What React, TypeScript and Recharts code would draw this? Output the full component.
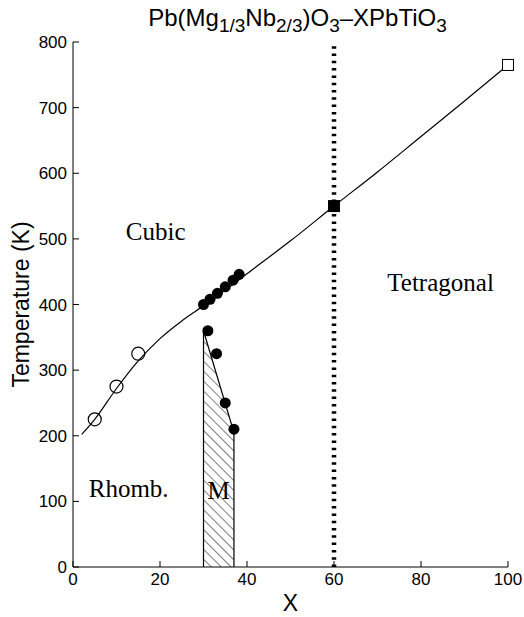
import React from 'react';
import { ComposedChart, XAxis, YAxis, Line, Area, Scatter, ReferenceLine, ReferenceDot } from 'recharts';

const xTicks = [0, 20, 40, 60, 80, 100];
const yTicks = [0, 100, 200, 300, 400, 500, 600, 700, 800];

// phase boundary cubic -> ferroelectric
const boundaryCurve = [
  { x: 2, y: 202 },
  { x: 5, y: 225 },
  { x: 10, y: 272 },
  { x: 15, y: 314 },
  { x: 20, y: 348 },
  { x: 25, y: 375 },
  { x: 30, y: 398 },
  { x: 35, y: 422 },
  { x: 40, y: 447 },
  { x: 50, y: 497 },
  { x: 60, y: 550 },
  { x: 70, y: 602 },
  { x: 80, y: 656 },
  { x: 90, y: 710 },
  { x: 100, y: 765 },
];

const openCircles = [
  { x: 5, y: 225 },
  { x: 10, y: 275 },
  { x: 15, y: 325 },
];

const upperDots = [
  { x: 30, y: 400 },
  { x: 31.5, y: 408 },
  { x: 33.2, y: 417 },
  { x: 35, y: 427 },
  { x: 36.8, y: 437 },
  { x: 38.2, y: 446 },
];

const lowerDots = [
  { x: 31, y: 360 },
  { x: 33, y: 325 },
  { x: 35, y: 250 },
  { x: 37, y: 210 },
];

const mTop = [
  { x: 30, y: 360 },
  { x: 37, y: 205 },
];

const mOutline = [
  { x: 30, y: 0 },
  { x: 30, y: 360 },
  { x: 37, y: 205 },
  { x: 37, y: 0 },
];

const filledSquare = [{ x: 60, y: 550 }];
const openSquare = [{ x: 100, y: 765 }];

const phaseLabels = [
  { name: 'Cubic', x: 19, y: 512 },
  { name: 'Tetragonal', x: 84.5, y: 434 },
  { name: 'Rhomb.', x: 12.8, y: 120 },
  { name: 'M', x: 33.5, y: 117 },
];

const tetraBoundary = 60;

const sans = 'Liberation Sans, Arial, Helvetica, sans-serif';
const serif = 'Liberation Serif, Times New Roman, serif';
const tickStyle = { fontFamily: sans, fontSize: 17, fill: '#000' };
const subStyle = { fontSize: 19 };

export default function App() {
  return (
    <div style={{ position: 'absolute', left: 0, top: 0, width: 524, height: 617, background: '#fff' }}>
      <div
        style={{
          position: 'absolute',
          left: 80,
          width: 435,
          top: 4,
          textAlign: 'center',
          fontFamily: sans,
          fontSize: 24,
          color: '#000',
          lineHeight: '28px',
          whiteSpace: 'nowrap',
        }}
      >
        Pb(Mg<sub style={subStyle}>1/3</sub>Nb<sub style={subStyle}>2/3</sub>)O<sub style={subStyle}>3</sub>–XPbTiO
        <sub style={subStyle}>3</sub>
      </div>
      <ComposedChart width={524} height={617} margin={{ top: 42, right: 16, bottom: 0, left: 10 }}>
        <defs>
          <pattern id="hatch" width="7" height="7" patternUnits="userSpaceOnUse" patternTransform="rotate(-45)">
            <line x1="0" y1="0" x2="0" y2="7" stroke="#000" strokeWidth={1} />
          </pattern>
        </defs>
        <XAxis
          xAxisId="b"
          type="number"
          dataKey="x"
          domain={[0, 100]}
          ticks={xTicks}
          height={50}
          tickSize={-6}
          tickMargin={12}
          stroke="#000"
          tick={tickStyle}
          label={{ value: 'X', position: 'insideBottom', offset: 6, style: { fontFamily: sans, fontSize: 23, fill: '#000' } }}
        />
        <XAxis xAxisId="t" orientation="top" type="number" dataKey="x" domain={[0, 100]} ticks={xTicks} height={0} tickSize={-6} tick={false} stroke="#000" />
        <YAxis
          yAxisId="l"
          type="number"
          dataKey="y"
          domain={[0, 800]}
          ticks={yTicks}
          width={63}
          tickSize={-6}
          tickMargin={12}
          stroke="#000"
          tick={tickStyle}
          label={{ value: 'Temperature (K)', angle: -90, position: 'insideLeft', offset: 11, style: { fontFamily: sans, fontSize: 23, fill: '#000', textAnchor: 'middle' } }}
        />
        <YAxis yAxisId="r" orientation="right" type="number" dataKey="y" domain={[0, 800]} ticks={yTicks} width={0} tickSize={-6} tick={false} stroke="#000" />

        <Area xAxisId="b" yAxisId="l" data={mTop} dataKey="y" type="linear" fill="url(#hatch)" fillOpacity={1} stroke="none" isAnimationActive={false} />
        <Line xAxisId="b" yAxisId="l" data={mOutline} dataKey="y" type="linear" stroke="#000" strokeWidth={1.2} dot={false} isAnimationActive={false} />
        <ReferenceLine xAxisId="b" yAxisId="l" x={tetraBoundary} stroke="#000" strokeWidth={4.5} strokeDasharray="2.5 4.8" />
        <Line xAxisId="b" yAxisId="l" data={boundaryCurve} dataKey="y" type="monotone" stroke="#000" strokeWidth={1.2} dot={false} isAnimationActive={false} />

        <Scatter
          xAxisId="b"
          yAxisId="l"
          data={openCircles}
          isAnimationActive={false}
          shape={(p: any) => <circle cx={p.cx} cy={p.cy} r={6.5} fill="none" stroke="#000" strokeWidth={1.2} />}
        />
        <Scatter
          xAxisId="b"
          yAxisId="l"
          data={upperDots}
          isAnimationActive={false}
          shape={(p: any) => <circle cx={p.cx} cy={p.cy} r={5.5} fill="#000" />}
        />
        <Scatter
          xAxisId="b"
          yAxisId="l"
          data={lowerDots}
          isAnimationActive={false}
          shape={(p: any) => <circle cx={p.cx} cy={p.cy} r={5.5} fill="#000" />}
        />
        <Scatter
          xAxisId="b"
          yAxisId="l"
          data={filledSquare}
          isAnimationActive={false}
          shape={(p: any) => <rect x={p.cx - 6} y={p.cy - 6} width={12} height={12} fill="#000" />}
        />
        <Scatter
          xAxisId="b"
          yAxisId="l"
          data={openSquare}
          isAnimationActive={false}
          shape={(p: any) => <rect x={p.cx - 5.5} y={p.cy - 5.5} width={11} height={11} fill="#fff" stroke="#000" strokeWidth={1} />}
        />

        {phaseLabels.map((l) => (
          <ReferenceDot
            key={l.name}
            xAxisId="b"
            yAxisId="l"
            x={l.x}
            y={l.y}
            r={0}
            fill="none"
            stroke="none"
            label={{ value: l.name, position: 'center', style: { fontFamily: serif, fontSize: 25, fill: '#000' } }}
          />
        ))}
      </ComposedChart>
    </div>
  );
}
